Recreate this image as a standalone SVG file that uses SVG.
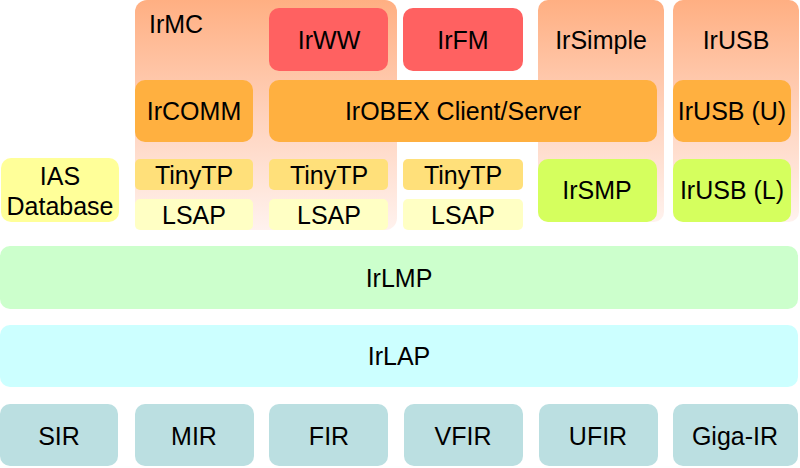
<svg xmlns="http://www.w3.org/2000/svg" width="800" height="468" viewBox="0 0 800 468">
<defs>
<linearGradient id="bg" x1="0" y1="0" x2="0" y2="1">
<stop offset="0" stop-color="#FFAF82"/>
<stop offset="0.5" stop-color="#FFD2BC"/>
<stop offset="1" stop-color="#FFF2EE"/>
</linearGradient>
<style>
text{font-family:"Liberation Sans",Arial,sans-serif;font-size:25px;fill:#000;text-anchor:middle;dominant-baseline:central}
.red{fill:#FF6161}
.org{fill:#FFB040}
.tiny{fill:#FFE07A}
.lsap{fill:#FFFFC4}
.ias{fill:#FFFF99}
.lime{fill:#D5FF5E}
.lmp{fill:#CCFFCC}
.lap{fill:#CCFFFF}
.phy{fill:#BBDFE1}
.grad{fill:url(#bg)}
</style>
</defs>
<g id="irmc"><rect class="grad" x="135" y="0" width="262" height="230" rx="12"/><text x="149" y="24" style="text-anchor:start">IrMC</text></g>
<g id="irsimple"><rect class="grad" x="538" y="0" width="126" height="222" rx="10"/><text x="601" y="40">IrSimple</text></g>
<g id="irusb"><rect class="grad" x="673" y="0" width="126" height="222" rx="10"/><text x="736" y="40">IrUSB</text></g>
<g id="irww"><rect class="red" x="269" y="8" width="119" height="63" rx="10"/><text x="329" y="40">IrWW</text></g>
<g id="irfm"><rect class="red" x="403" y="8" width="120" height="63" rx="10"/><text x="463" y="40">IrFM</text></g>
<g id="ircomm"><rect class="org" x="135" y="80" width="118" height="62" rx="10"/><text x="194" y="111">IrCOMM</text></g>
<g id="irobex"><rect class="org" x="269" y="80" width="388" height="62" rx="10"/><text x="463" y="111">IrOBEX Client/Server</text></g>
<g id="irusbu"><rect class="org" x="673" y="80" width="118" height="62" rx="10"/><text x="732" y="111">IrUSB (U)</text></g>
<g id="ias"><rect class="ias" x="1" y="158" width="118" height="64" rx="10"/><text x="60" y="176">IAS</text><text x="60" y="206">Database</text></g>
<g id="tinytp1"><rect class="tiny" x="135" y="159" width="118" height="31" rx="5"/><text x="194" y="175">TinyTP</text></g>
<g id="tinytp2"><rect class="tiny" x="269" y="159" width="119" height="31" rx="5"/><text x="329" y="175">TinyTP</text></g>
<g id="tinytp3"><rect class="tiny" x="403" y="159" width="120" height="31" rx="5"/><text x="463" y="175">TinyTP</text></g>
<g id="lsap1"><rect class="lsap" x="135" y="199" width="118" height="31" rx="5"/><text x="194" y="215">LSAP</text></g>
<g id="lsap2"><rect class="lsap" x="269" y="199" width="119" height="31" rx="5"/><text x="329" y="215">LSAP</text></g>
<g id="lsap3"><rect class="lsap" x="403" y="199" width="120" height="31" rx="5"/><text x="463" y="215">LSAP</text></g>
<g id="irsmp"><rect class="lime" x="538" y="159" width="119" height="63" rx="10"/><text x="597" y="190">IrSMP</text></g>
<g id="irusbl"><rect class="lime" x="673" y="159" width="118" height="63" rx="10"/><text x="732" y="190">IrUSB (L)</text></g>
<g id="irlmp"><rect class="lmp" x="0" y="246" width="798" height="63" rx="10"/><text x="399" y="278">IrLMP</text></g>
<g id="irlap"><rect class="lap" x="0" y="325" width="798" height="62" rx="10"/><text x="399" y="356">IrLAP</text></g>
<g id="sir"><rect class="phy" x="0" y="404" width="118" height="62" rx="10"/><text x="59" y="436">SIR</text></g>
<g id="mir"><rect class="phy" x="135" y="404" width="119" height="62" rx="10"/><text x="194" y="436">MIR</text></g>
<g id="fir"><rect class="phy" x="269" y="404" width="119" height="62" rx="10"/><text x="329" y="436">FIR</text></g>
<g id="vfir"><rect class="phy" x="404" y="404" width="119" height="62" rx="10"/><text x="463" y="436">VFIR</text></g>
<g id="ufir"><rect class="phy" x="539" y="404" width="119" height="62" rx="10"/><text x="598" y="436">UFIR</text></g>
<g id="gigair"><rect class="phy" x="673" y="404" width="125" height="62" rx="10"/><text x="735" y="436">Giga-IR</text></g>
<g id="connectors"/>
</svg>
